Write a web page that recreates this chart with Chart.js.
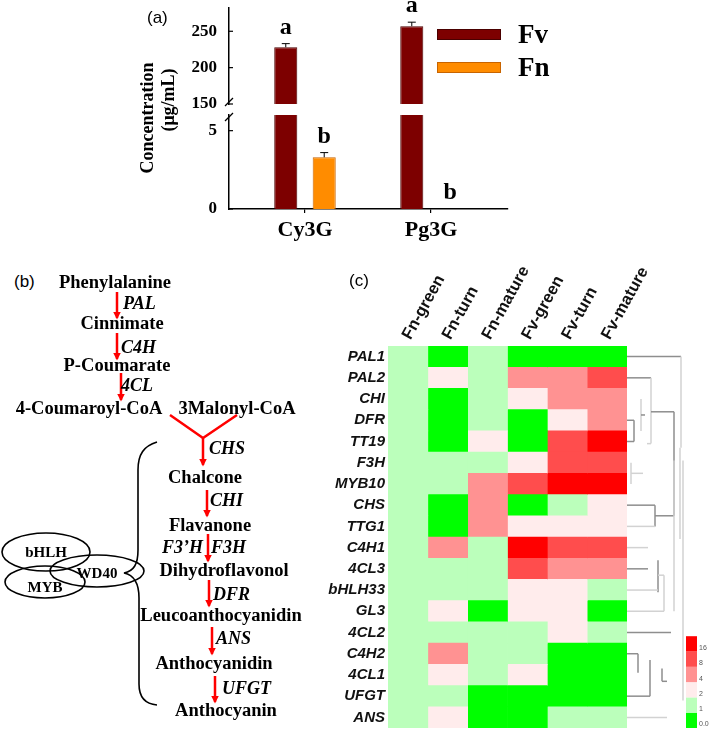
<!DOCTYPE html>
<html>
<head>
<meta charset="utf-8">
<script src="https://cdn.jsdelivr.net/npm/chart.js@4.4.1/dist/chart.umd.min.js"></script>
<style>
  body { margin: 0; background: #fff; }
  #fig { position: relative; width: 709px; height: 730px; overflow: hidden; background: #fff; }
  canvas, svg { position: absolute; }
  .tag { position: absolute; font-family: "Liberation Sans", Arial, sans-serif; font-size: 17px; color: #000; line-height: 20px; }
  .ytitle { position: absolute; font-family: "Liberation Serif", "Times New Roman", serif; font-weight: bold;
            font-size: 18px; white-space: nowrap; transform: translate(-50%, -50%) rotate(-90deg); }
  .cmp { font-family: "Liberation Serif", "Times New Roman", serif; font-weight: bold; font-size: 18.5px; text-anchor: middle; dominant-baseline: central; }
  .enz { font-family: "Liberation Serif", "Times New Roman", serif; font-weight: bold; font-style: italic; font-size: 18px; dominant-baseline: central; }
  .tf  { font-family: "Liberation Serif", "Times New Roman", serif; font-weight: bold; font-size: 15px; text-anchor: middle; dominant-baseline: central; }
</style>
</head>
<body>
<div id="fig">
  <canvas id="barTop" width="709" height="112" style="left:0;top:0"></canvas>
  <canvas id="barBottom" width="709" height="130" style="left:0;top:112px"></canvas>
  <canvas id="heat" width="409" height="470" style="left:300px;top:260px"></canvas>

  <div class="tag" style="left:147px;top:8px">(a)</div>
  <div class="tag" style="left:14px;top:272px">(b)</div>
  <div class="tag" style="left:349px;top:271px">(c)</div>
  <div class="ytitle" style="left:147px;top:118px">Concentration</div>
  <div class="ytitle" style="left:168px;top:100px">(μg/mL)</div>

  <svg width="340" height="730" style="left:0;top:0">
    <defs>
      <marker id="ah" viewBox="0 0 10 10" refX="8" refY="5" markerWidth="3" markerHeight="3.2" orient="auto">
        <path d="M0,0L10,5L0,10z" fill="#f00"/>
      </marker>
    </defs>
    <g stroke="#f00" stroke-width="2.5" marker-end="url(#ah)">
      <line x1="117" y1="292" x2="117" y2="318"/>
      <line x1="117" y1="333" x2="117" y2="359"/>
      <line x1="121" y1="373" x2="121" y2="400"/>
      <line x1="203" y1="438" x2="203" y2="465"/>
      <line x1="207" y1="490" x2="207" y2="516"/>
      <line x1="208" y1="534" x2="208" y2="561"/>
      <line x1="209" y1="580" x2="209" y2="606"/>
      <line x1="212" y1="627" x2="212" y2="654"/>
      <line x1="215" y1="676" x2="215" y2="702"/>
    </g>
    <path d="M170,415L203,438L237,415" stroke="#f00" stroke-width="2.5" fill="none"/>

    <text class="cmp" x="115" y="282">Phenylalanine</text>
    <text class="cmp" x="122" y="323">Cinnimate</text>
    <text class="cmp" x="117" y="365">P-Coumarate</text>
    <text class="cmp" x="89" y="408">4-Coumaroyl-CoA</text>
    <text class="cmp" x="237" y="408">3Malonyl-CoA</text>
    <text class="cmp" x="205" y="477">Chalcone</text>
    <text class="cmp" x="210" y="525">Flavanone</text>
    <text class="cmp" x="224" y="570">Dihydroflavonol</text>
    <text class="cmp" x="221" y="615">Leucoanthocyanidin</text>
    <text class="cmp" x="214" y="663">Anthocyanidin</text>
    <text class="cmp" x="226" y="710">Anthocyanin</text>

    <text class="enz" x="123" y="303">PAL</text>
    <text class="enz" x="121" y="347">C4H</text>
    <text class="enz" x="121" y="385">4CL</text>
    <text class="enz" x="209" y="448">CHS</text>
    <text class="enz" x="210" y="500">CHI</text>
    <text class="enz" x="203" y="547" text-anchor="end">F3’H</text>
    <text class="enz" x="211" y="547">F3H</text>
    <text class="enz" x="213" y="594">DFR</text>
    <text class="enz" x="216" y="638">ANS</text>
    <text class="enz" x="222" y="688">UFGT</text>

    <path d="M157,442C144,446 138,454 138,470L138,550C138,564 134,571 124,573C134,575 139,583 139,598L139,684C139,697 145,704 157,705"
          stroke="#000" stroke-width="1.6" fill="none"/>
    <g stroke="#000" stroke-width="1.6" fill="none">
      <ellipse cx="46" cy="552" rx="44" ry="19"/>
      <ellipse cx="45" cy="582" rx="40" ry="16"/>
      <ellipse cx="97" cy="571" rx="47" ry="16"/>
    </g>
    <text class="tf" x="46" y="552">bHLH</text>
    <text class="tf" x="45" y="587">MYB</text>
    <text class="tf" x="97" y="573">WD40</text>
  </svg>
</div>

<script>
// (a) anthocyanin content
const compounds = ['Cy3G', 'Pg3G'];
const fvValues = [228, 257];
const fnValues = [3.3, 0];
const fvErrors = [5, 5.5];
const fnErrors = [0.3, 0];
const fvLetters = ['a', 'a'];
const fnLetters = ['b', 'b'];
const upperTicks = [150, 200, 250];
const lowerTicks = [0, 5];

// (c) heatmap
const stages = ['Fn-green', 'Fn-turn', 'Fn-mature', 'Fv-green', 'Fv-turn', 'Fv-mature'];
const genes = ['PAL1', 'PAL2', 'CHI', 'DFR', 'TT19', 'F3H', 'MYB10', 'CHS', 'TTG1',
               'C4H1', '4CL3', 'bHLH33', 'GL3', '4CL2', 'C4H2', '4CL1', 'UFGT', 'ANS'];
const foldValues = [
  [1, 0.01, 1, 0.01, 0.01, 0.01],
  [1, 2, 1, 4, 4, 8],
  [1, 0.01, 1, 2, 4, 4],
  [1, 0.01, 1, 0.01, 2, 4],
  [1, 0.01, 2, 0.01, 8, 16],
  [1, 1, 1, 2, 8, 8],
  [1, 1, 4, 8, 16, 16],
  [1, 0.01, 4, 0.01, 1, 2],
  [1, 0.01, 4, 2, 2, 2],
  [1, 4, 1, 16, 8, 8],
  [1, 1, 1, 8, 4, 4],
  [1, 1, 1, 2, 2, 1],
  [1, 2, 0.01, 2, 2, 0.01],
  [1, 1, 1, 1, 2, 1],
  [1, 4, 1, 1, 0.01, 0.01],
  [1, 2, 1, 2, 0.01, 0.01],
  [1, 1, 0.01, 0.01, 0.01, 0.01],
  [1, 2, 0.01, 0.01, 1, 1]
];
const keyLevels = [0.01, 1, 2, 4, 8, 16];
const keyColors = ['#00ff00', '#bbffbb', '#ffecec', '#ff9292', '#ff4d4d', '#ff0000'];
// dendrogram links: [height1, row1, height2, row2, faint]
const dendroLinks = [
  [0, 0, 54, 0, 0], [54, 0, 54, 4.3, 1],
  [0, 1, 24, 1, 0], [24, 1, 24, 4.1, 1], [20, 4.1, 24, 4.1, 1], [24, 2.6, 47, 2.6, 0],
  [0, 3, 7, 3, 0], [0, 4, 7, 4, 0], [7, 3, 7, 4, 0],
  [14, 2, 14, 3.5, 1], [14, 2.75, 18, 2.75, 0],
  [4, 5, 4, 6, 1], [4, 5.5, 16, 5.5, 1],
  [0, 7, 28, 7, 0], [28, 7, 28, 8, 0], [0, 8, 28, 8, 1], [28, 7.5, 47, 7.5, 0], [47, 2.6, 47, 7.5, 0],
  [0, 9, 21, 9, 1], [0, 10, 21, 10, 0], [31, 9.6, 31, 11.1, 0], [31, 10.3, 37, 10.3, 1],
  [0, 11, 31, 11, 1], [37, 10.3, 37, 12, 1], [0, 12, 37, 12, 1],
  [47, 4.9, 47, 12, 1], [53, 4.3, 53, 8.6, 1], [56, 4.9, 56, 16.2, 1],
  [0, 13, 44, 13, 0],
  [0, 14, 11, 14, 0], [11, 14, 11, 14.9, 0], [0, 16, 23, 16, 0], [23, 14.3, 23, 16, 0],
  [35, 14.7, 35, 15.3, 0], [35, 15.3, 40, 15.3, 0], [0, 17, 40, 17, 1]
];

const serif = '"Liberation Serif", "Times New Roman", serif';
const sans = '"Liberation Sans", Arial, sans-serif';

function noScalePad(s) {
  s.paddingTop = 0; s.paddingBottom = 0; s.paddingLeft = 0; s.paddingRight = 0;
}

const barMarks = {
  id: 'barMarks',
  afterDatasetsDraw(chart, args, opts) {
    const { ctx, chartArea: a, scales: { y } } = chart;
    const errs = [fvErrors, fnErrors];
    const letters = [fvLetters, fnLetters];
    ctx.save();
    ctx.strokeStyle = '#000';
    ctx.fillStyle = '#000';
    ctx.lineWidth = 1;
    ctx.font = 'bold 24px ' + serif;
    ctx.textAlign = 'center';
    ctx.textBaseline = 'middle';
    chart.data.datasets.forEach((ds, i) => {
      const meta = chart.getDatasetMeta(i);
      ds.data.forEach((p, j) => {
        const top = p.y + errs[i][j];
        if (top < y.min || top > y.max) return;
        const bx = meta.data[j].x;
        const yTop = y.getPixelForValue(top);
        if (errs[i][j] > 0) {
          ctx.beginPath();
          ctx.moveTo(bx, y.getPixelForValue(Math.max(p.y, y.min)));
          ctx.lineTo(bx, yTop);
          ctx.moveTo(bx - 4, yTop);
          ctx.lineTo(bx + 4, yTop);
          ctx.stroke();
        }
        ctx.fillText(letters[i][j], bx, yTop - 16);
      });
    });
    // small inward ticks on the y axis
    ctx.lineWidth = 1.2;
    y.ticks.forEach(t => {
      const py = y.getPixelForValue(t.value);
      ctx.beginPath();
      ctx.moveTo(a.left, py);
      ctx.lineTo(a.left + 4, py);
      ctx.stroke();
    });
    // axis break mark
    const by = opts.brk === 'bottom' ? a.bottom - 2 : a.top + 2;
    ctx.beginPath();
    ctx.moveTo(a.left - 4, by + 4);
    ctx.lineTo(a.left + 4, by - 4);
    ctx.stroke();
    ctx.restore();
  }
};

const barLegend = {
  id: 'barLegend',
  afterDraw(chart) {
    const ctx = chart.ctx;
    ctx.save();
    chart.data.datasets.forEach((ds, i) => {
      const y0 = 29 + i * 33;
      ctx.fillStyle = ds.backgroundColor;
      ctx.fillRect(437, y0, 64, 11);
      ctx.strokeStyle = ds.borderColor;
      ctx.lineWidth = 1;
      ctx.strokeRect(437.5, y0 + 0.5, 63, 10);
      ctx.fillStyle = '#000';
      ctx.font = 'bold 27px ' + serif;
      ctx.textAlign = 'left';
      ctx.textBaseline = 'middle';
      ctx.fillText(ds.label, 518, y0 + 7);
    });
    ctx.restore();
  }
};

function barChart(id, yMin, yMax, yTicks, bottomPart) {
  return new Chart(document.getElementById(id), {
    type: 'bar',
    data: {
      datasets: [
        { label: 'Fv', data: fvValues.map((v, i) => ({ x: i + 1, y: v })),
          backgroundColor: '#7d0000', borderColor: '#4a0000', borderWidth: 1 },
        { label: 'Fn', data: fnValues.map((v, i) => ({ x: i + 1, y: v })),
          backgroundColor: '#ff8c00', borderColor: '#c86400', borderWidth: 1 }
      ]
    },
    options: {
      responsive: false,
      animation: false,
      devicePixelRatio: 1,
      categoryPercentage: 0.61,
      barPercentage: 0.6,
      layout: { padding: bottomPart ? { left: 0, right: 201, top: 3, bottom: 0 }
                                    : { left: 0, right: 201, top: 8, bottom: 8 } },
      plugins: {
        legend: { display: false },
        tooltip: { enabled: false },
        barMarks: { brk: bottomPart ? 'top' : 'bottom' }
      },
      scales: {
        x: {
          type: 'linear', offset: false, display: bottomPart,
          min: 0.397, max: 2.611,
          afterBuildTicks: s => { s.ticks = compounds.map((c, i) => ({ value: i + 1 })); },
          afterFit: s => { noScalePad(s); if (bottomPart) s.height = 33; },
          grid: { offset: false, drawOnChartArea: false, drawTicks: true, tickLength: 4, color: '#000', lineWidth: 1.2 },
          border: { display: true, color: '#000', width: 1.5 },
          ticks: { color: '#000', padding: 4, font: { family: serif, size: 22, weight: 'bold' },
                   callback: (v, i) => compounds[i] }
        },
        y: {
          min: yMin, max: yMax,
          afterBuildTicks: s => { s.ticks = yTicks.map(v => ({ value: v })); },
          afterFit: s => { noScalePad(s); s.width = 229; },
          grid: { display: false, drawTicks: false },
          border: { display: true, color: '#000', width: 1.5 },
          ticks: { color: '#000', padding: 12, font: { family: serif, size: 17, weight: 'bold' } }
        }
      }
    },
    plugins: bottomPart ? [barMarks] : [barMarks, barLegend]
  });
}

barChart('barTop', 150, 282, upperTicks, false);
barChart('barBottom', 0, 6, lowerTicks, true);

function foldColor(v) {
  let k = 0;
  keyLevels.forEach((lv, i) => { if (v >= lv) k = i; });
  return keyColors[k];
}

const heatExtras = {
  id: 'heatExtras',
  afterDraw(chart) {
    const { ctx, chartArea: a, scales: { y } } = chart;
    ctx.save();
    ctx.lineWidth = 1.5;
    dendroLinks.forEach(([d1, r1, d2, r2, faint]) => {
      ctx.strokeStyle = faint ? '#d2d2d2' : '#8e8e8e';
      ctx.beginPath();
      ctx.moveTo(a.right + d1, y.getPixelForValue(r1));
      ctx.lineTo(a.right + d2, y.getPixelForValue(r2));
      ctx.stroke();
    });
    const kx = a.right + 59, kh = 15.3;
    keyLevels.forEach((lv, i) => {
      const top = a.bottom - (i + 1) * kh;
      ctx.fillStyle = keyColors[i];
      ctx.fillRect(kx, top, 11, kh);
      ctx.fillStyle = '#555';
      ctx.font = '7px ' + sans;
      ctx.textAlign = 'left';
      ctx.textBaseline = 'bottom';
      ctx.fillText(String(lv), kx + 13, top + kh);
    });
    ctx.restore();
  }
};

new Chart(document.getElementById('heat'), {
  type: 'bar',
  data: {
    labels: genes,
    datasets: stages.map((s, c) => ({
      label: s,
      data: genes.map(() => 1),
      backgroundColor: genes.map((g, r) => foldColor(foldValues[r][c])),
      borderWidth: 0,
      barPercentage: 1,
      categoryPercentage: 1
    }))
  },
  options: {
    indexAxis: 'y',
    responsive: false,
    animation: false,
    devicePixelRatio: 1,
    layout: { padding: { left: 0, right: 82, top: 0, bottom: 2 } },
    plugins: { legend: { display: false }, tooltip: { enabled: false } },
    scales: {
      x: {
        type: 'linear', stacked: true, min: 0, max: 6, position: 'top',
        afterBuildTicks: s => { s.ticks = stages.map((st, i) => ({ value: i + 0.5 })); },
        afterFit: s => { noScalePad(s); s.height = 86; },
        grid: { display: false, drawTicks: false },
        border: { display: false },
        ticks: { autoSkip: false, minRotation: 61, maxRotation: 61, padding: 3, labelOffset: 16, color: '#111',
                 font: { family: sans, size: 16.5, weight: 'bold' },
                 callback: (v, i) => stages[i] }
      },
      y: {
        stacked: true,
        afterFit: s => { noScalePad(s); s.width = 88; },
        grid: { display: false, drawTicks: false },
        border: { display: false },
        ticks: { color: '#111', padding: 3, autoSkip: false,
                 font: { family: sans, size: 15, weight: 'bold', style: 'italic' } }
      }
    }
  },
  plugins: [heatExtras]
});
</script>
</body>
</html>
